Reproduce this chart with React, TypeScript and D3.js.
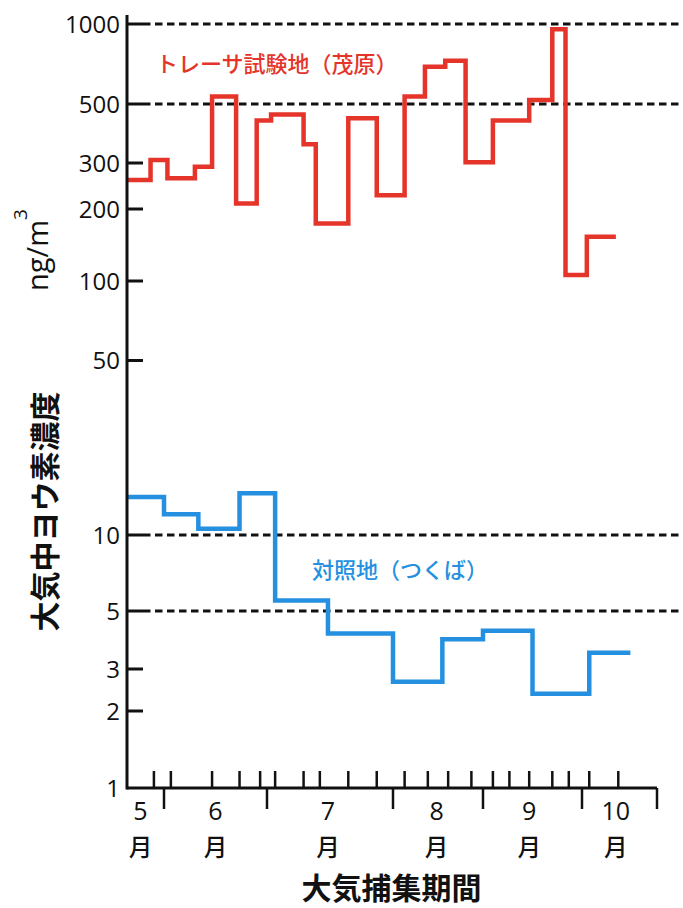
import React from 'react';
import * as d3 from 'd3';

// ---- data ----
// Sampling period boundaries (MM-DD) and iodine concentrations (ng/m3)
const redDates = ['05-21', '05-28', '06-02', '06-10', '06-15', '06-22', '06-28', '07-02', '07-10', '07-13', '07-21', '07-28', '08-05', '08-12', '08-19', '08-26', '09-04', '09-15', '09-22', '09-26', '10-03', '10-15'];
const redValues = [258, 308, 262, 290, 533, 210, 433, 457, 353, 174, 442, 226, 533, 691, 728, 302, 433, 518, 955, 106, 153];

const blueDates = ['05-21', '06-01', '06-11', '06-23', '07-03', '07-16', '08-01', '08-18', '09-01', '09-16', '10-04', '10-21'];
const blueValues = [14.2, 12.1, 10.6, 14.7, 5.5, 4.1, 2.65, 3.9, 4.2, 2.36, 3.46];

const samplingTicks = ['05-29', '06-03', '06-15', '06-23', '06-29', '07-03', '07-10', '07-14', '07-21', '07-28', '08-05', '08-13', '08-20', '08-28', '09-04', '09-09', '09-15', '09-22', '09-27', '10-04', '10-16'];
const monthBounds = ['05-21', '06-01', '07-01', '08-01', '09-01', '10-01', '11-01'];
const monthLabels = ['5', '6', '7', '8', '9', '10'];
const monthLabelDates = ['05-25', '06-16', '07-16', '08-16', '09-15', '10-15'];
const yTickValues = [1, 2, 3, 5, 10, 50, 100, 200, 300, 500, 1000];
const guideValues = [1000, 500, 10, 5];

const redName = 'トレーサ試験地（茂原）';
const blueName = '対照地（つくば）';
const yTitle = '大気中ヨウ素濃度';
const xTitle = '大気捕集期間';

const RED = '#e5342a';
const BLUE = '#2590e0';
const NUM_FONT = "'Open Sans', 'DejaVu Sans', sans-serif";
const JP_FONT = "'Noto Sans CJK JP', 'Noto Sans', sans-serif";

const parse = d3.timeParse('%m-%d');

export default function App() {
  const W = 683;
  const H = 908;
  const axisX = 127;

  const x = d3
    .scaleTime()
    .domain(monthBounds.map((d) => parse(d) as Date))
    .range([127, 164, 267, 393, 483, 582, 657]);

  const y = d3
    .scaleLog()
    .domain(yTickValues)
    .range([788, 711, 669, 611, 535, 360.5, 281, 209, 163, 104, 24]);

  const axisY = y(1);

  const step = d3
    .line<[Date, number]>()
    .x((d) => x(d[0]))
    .y((d) => y(d[1]))
    .curve(d3.curveStepAfter);

  const toPts = (dates: string[], vals: number[]): [Date, number][] =>
    dates.map((d, i) => [parse(d) as Date, vals[Math.min(i, vals.length - 1)]]);

  const redPath = step(toPts(redDates, redValues)) || '';
  const bluePath = step(toPts(blueDates, blueValues)) || '';

  return (
    <svg
      width={W}
      height={H}
      viewBox={`0 0 ${W} ${H}`}
      style={{ position: 'absolute', left: 0, top: 0, background: '#fff' }}
    >
      <rect x={0} y={0} width={W} height={H} fill="#fff" />

      {/* dashed guide lines */}
      {guideValues.map((v) => (
        <line
          key={'g' + v}
          x1={axisX + 16}
          x2={680}
          y1={y(v)}
          y2={y(v)}
          stroke="#111"
          strokeWidth={3}
          strokeDasharray="7.5 4.5"
        />
      ))}

      {/* series */}
      <path d={redPath} fill="none" stroke={RED} strokeWidth={4.5} strokeLinejoin="miter" />
      <path d={bluePath} fill="none" stroke={BLUE} strokeWidth={4.5} strokeLinejoin="miter" />

      {/* y axis */}
      <line x1={axisX} x2={axisX} y1={y(1000) - 9} y2={axisY + 1.5} stroke="#111" strokeWidth={3} />
      {yTickValues.map((v) => (
        <g key={'y' + v}>
          {v !== 1 && (
            <line x1={axisX} x2={axisX + 16} y1={y(v)} y2={y(v)} stroke="#111" strokeWidth={3} />
          )}
          <text
            x={120}
            y={y(v)}
            dy="0.36em"
            textAnchor="end"
            fontFamily={NUM_FONT}
            fontSize={24}
            fill="#111"
          >
            {v}
          </text>
        </g>
      ))}

      {/* x axis */}
      <line x1={axisX} x2={x(parse('11-01') as Date)} y1={axisY} y2={axisY} stroke="#111" strokeWidth={3} />
      {samplingTicks.map((d) => (
        <line
          key={'t' + d}
          x1={x(parse(d) as Date)}
          x2={x(parse(d) as Date)}
          y1={axisY}
          y2={axisY - 17}
          stroke="#111"
          strokeWidth={2.5}
        />
      ))}
      {monthBounds.slice(1).map((d) => (
        <line
          key={'m' + d}
          x1={x(parse(d) as Date)}
          x2={x(parse(d) as Date)}
          y1={axisY}
          y2={axisY + 21}
          stroke="#111"
          strokeWidth={2.5}
        />
      ))}
      {monthLabels.map((m, i) => {
        const cx = x(parse(monthLabelDates[i]) as Date);
        return (
          <g key={'ml' + m}>
            <text x={cx} y={820} textAnchor="middle" fontFamily={NUM_FONT} fontSize={25} fill="#111">
              {m}
            </text>
            <text
              x={cx}
              y={856}
              textAnchor="middle"
              fontFamily={JP_FONT}
              fontWeight={500}
              fontSize={23.5}
              fill="#111"
            >
              月
            </text>
          </g>
        );
      })}

      {/* axis titles */}
      <text
        x={391.5}
        y={885.5}
        textAnchor="middle"
        dominantBaseline="central"
        fontFamily={JP_FONT}
        fontWeight={700}
        fontSize={30}
        fill="#111"
      >
        {xTitle}
      </text>
      <text
        transform="translate(43,511.5) rotate(-90)"
        textAnchor="middle"
        dominantBaseline="central"
        fontFamily={JP_FONT}
        fontWeight={700}
        fontSize={30}
        fill="#111"
      >
        {yTitle}
      </text>
      <text
        transform="translate(48,250) rotate(-90)"
        textAnchor="middle"
        fontFamily={NUM_FONT}
        fontSize={29}
        fill="#111"
      >
        ng/m
        <tspan fontSize={19} dy={-21}>
          3
        </tspan>
      </text>

      {/* series labels */}
      <text
        x={156}
        y={62}
        dominantBaseline="central"
        fontFamily={JP_FONT}
        fontWeight={500}
        fontSize={22}
        fill={RED}
      >
        {redName}
      </text>
      <text
        x={312}
        y={568}
        dominantBaseline="central"
        fontFamily={JP_FONT}
        fontWeight={500}
        fontSize={22}
        fill={BLUE}
      >
        {blueName}
      </text>
    </svg>
  );
}
